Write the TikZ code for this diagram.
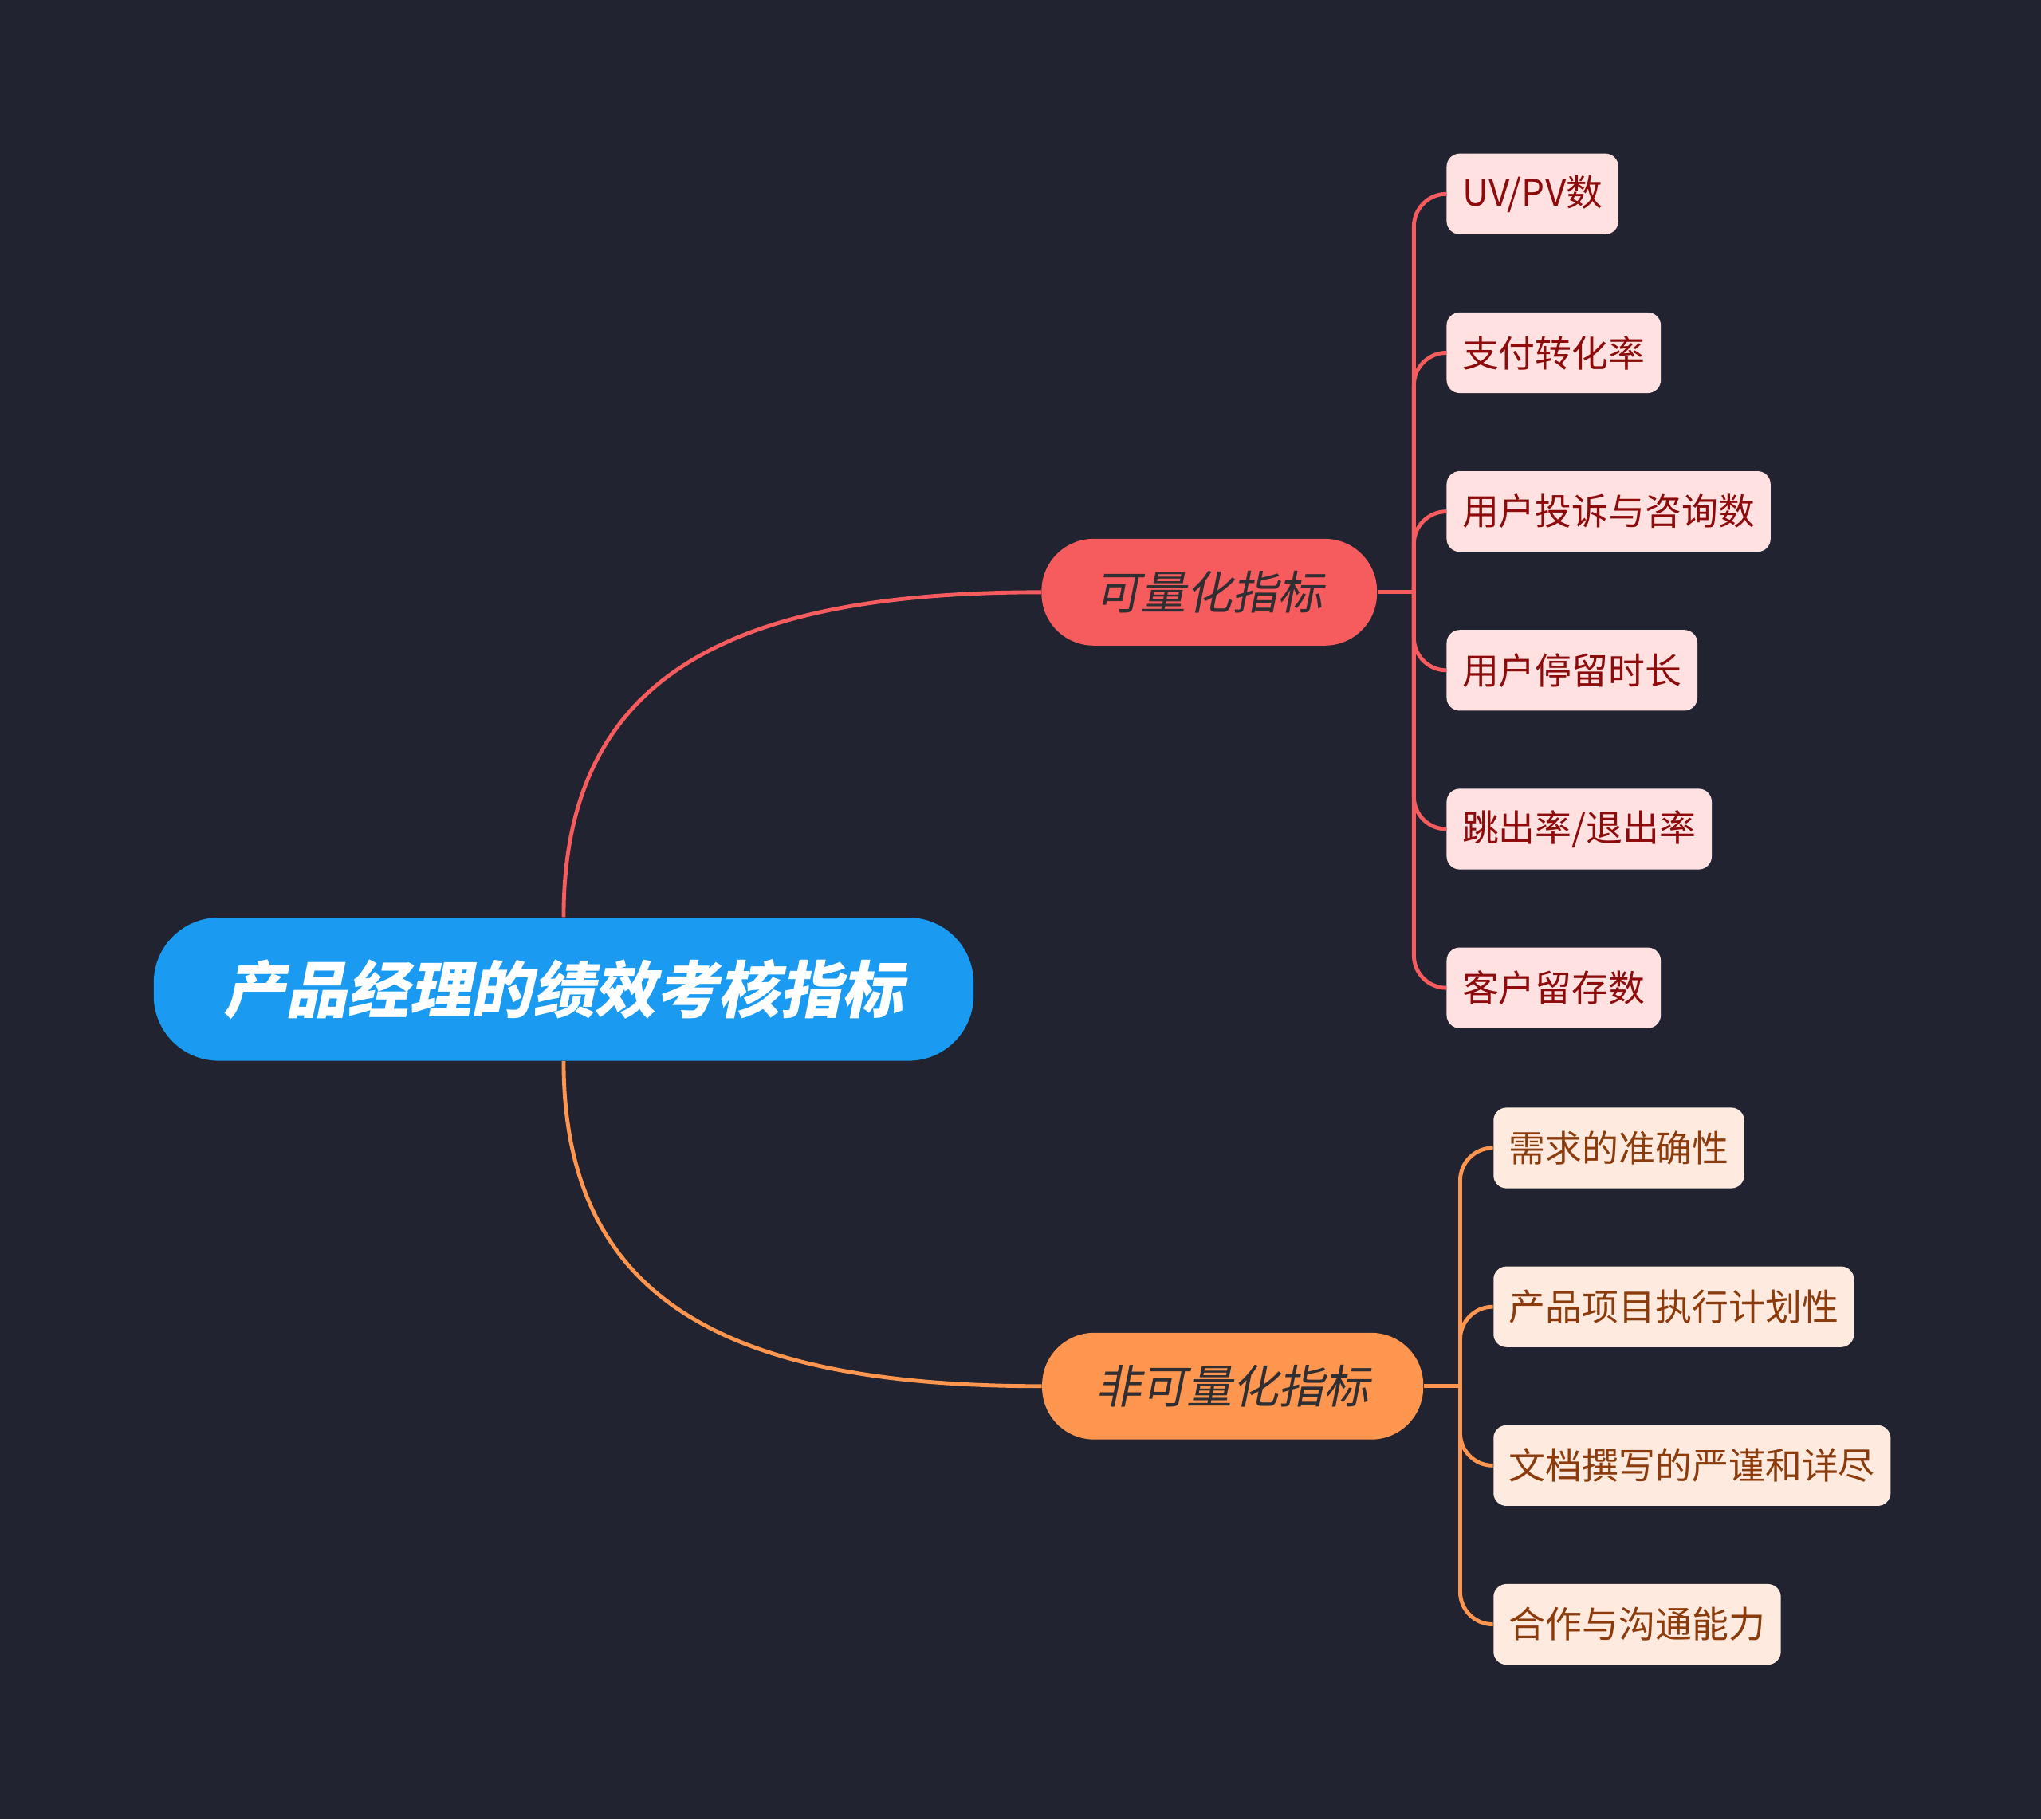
\documentclass[tikz,border=0pt]{standalone}
\usepackage{fontspec}
\usepackage{xcolor}
\usepackage{tikz}
\usetikzlibrary{positioning, calc}
\newfontfamily\cjk{Noto Sans CJK SC}
\newfontfamily\cjkit[FakeSlant=0.2]{Noto Sans CJK SC}
\definecolor{bgnavy}{HTML}{212330}
\definecolor{rootblue}{HTML}{1A9AF0}
\definecolor{qred}{HTML}{F65C5E}
\definecolor{qorange}{HTML}{FF9650}
\definecolor{pinkfill}{HTML}{FFE1E1}
\definecolor{pinktext}{HTML}{8E0B0B}
\definecolor{peachfill}{HTML}{FFEADF}
\definecolor{peachtext}{HTML}{8C3B0C}
\definecolor{darktext}{HTML}{2E2E33}

\begin{document}
\begin{tikzpicture}[
  x=0.02cm, y=-0.02cm,
  root/.style={
    rectangle, rounded corners=1cm, fill=rootblue, text=white,
    font=\cjkit\bfseries\fontsize{27}{32}\selectfont,
    minimum width=12.6cm, minimum height=2.2cm
  },
  branch/.style={
    rectangle, rounded corners=0.8cm, fill=#1, text=darktext,
    font=\cjkit\fontsize{20}{24}\selectfont,
    minimum height=1.64cm, inner xsep=0.82cm
  },
  leaf/.style 2 args={
    rectangle, rounded corners=0.2cm, fill=#1, text=#2,
    font=\cjk\fontsize{16}{19}\selectfont, anchor=west,
    minimum height=1.24cm, inner xsep=0.24cm
  },
  link/.style={line width=1.7pt, color=#1},
]
\useasboundingbox[fill=bgnavy] (0,0) rectangle (1568,1398);

% Root
\node[root] (root) at (433,760) {产品经理的绩效考核指标};

% Branches
\node[branch=qred] (quant) at (929,455) {可量化指标};
\node[branch=qorange] (nonq) at (947,1065) {非可量化指标};

% Quantitative leaves
\node[leaf={pinkfill}{pinktext}] (uv) at (1111,149) {UV/PV数};
\node[leaf={pinkfill}{pinktext}] (pay) at (1111,271) {支付转化率};
\node[leaf={pinkfill}{pinktext}] (comp) at (1111,393) {用户投诉与咨询数};
\node[leaf={pinkfill}{pinktext}] (stay) at (1111,515) {用户停留时长};
\node[leaf={pinkfill}{pinktext}] (bounce) at (1111,637) {跳出率/退出率};
\node[leaf={pinkfill}{pinktext}] (keep) at (1111,759) {客户留存数};

% Non-quantitative leaves
\node[leaf={peachfill}{peachtext}] (need) at (1147,882) {需求的准确性};
\node[leaf={peachfill}{peachtext}] (plan) at (1147,1004) {产品项目执行计划性};
\node[leaf={peachfill}{peachtext}] (doc) at (1147,1126) {文档撰写的严谨和详尽};
\node[leaf={peachfill}{peachtext}] (team) at (1147,1248) {合作与沟通能力};

% Root to branches
\draw[link=qred] (root.north) .. controls +(0,-185) and +(-240,0) .. (quant.west);
\draw[link=qorange] (root.south) .. controls +(0,185) and +(-240,0) .. (nonq.west);

% Branch to leaves
\coordinate (qj) at ($(quant.east)+(28,0)$);
\coordinate (nj) at ($(nonq.east)+(28,0)$);
\draw[link=qred] (quant.east) -- (qj);
\draw[link=qorange] (nonq.east) -- (nj);
\foreach \leaf in {uv, pay, comp, stay, bounce, keep}
  \draw[link=qred, rounded corners=0.5cm] (qj) |- (\leaf.west);
\foreach \leaf in {need, plan, doc, team}
  \draw[link=qorange, rounded corners=0.5cm] (nj) |- (\leaf.west);

\end{tikzpicture}
\end{document}
